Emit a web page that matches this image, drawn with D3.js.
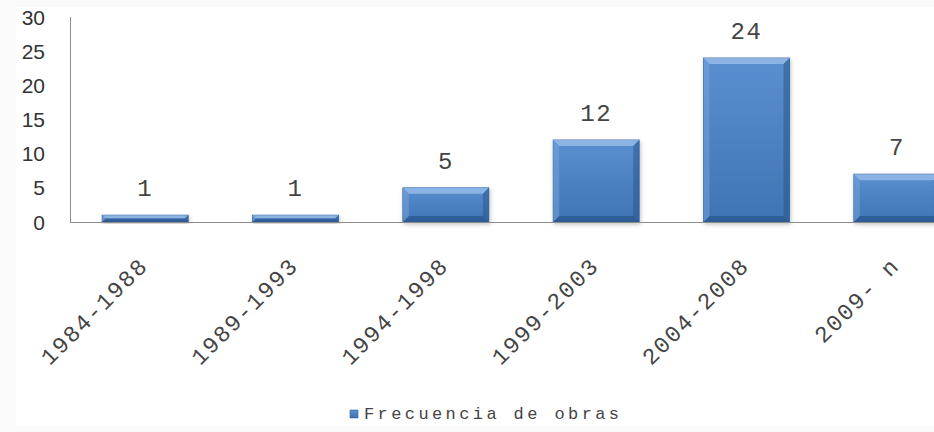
<!DOCTYPE html>
<html lang="es">
<head>
<meta charset="UTF-8">
<title>Frecuencia de obras</title>
<script src="https://d3js.org/d3.v7.min.js"></script>
<style>
    body { margin: 0; background: #fafafa; }
    svg { display: block; }
    .ytick { font-family: 'Liberation Sans', Arial, sans-serif; font-size: 21px; fill: #333; }
    .mono { font-family: 'Liberation Mono', 'Courier New', monospace; fill: #444; }
</style>
</head>
<body>
<svg id="chart" width="934" height="432"></svg>
<script>
    var categories = ["1984-1988", "1989-1993", "1994-1998", "1999-2003", "2004-2008", "2009- n"];
    var values = [1, 1, 5, 12, 24, 7];
    var yTicks = [0, 5, 10, 15, 20, 25, 30];
    var seriesName = "Frecuencia de obras";

    var data = categories.map(function(c, i) { return {cat: c, val: values[i]}; });

    var svg = d3.select("#chart");
    // white plot area inside the light frame
    svg.append("rect").attr("x", 16).attr("y", 7).attr("width", 918).attr("height", 419).attr("fill", "#fff");

    var defs = svg.append("defs");
    var grad = defs.append("linearGradient").attr("id", "barGrad").attr("x1", 0).attr("y1", 0).attr("x2", 0).attr("y2", 1);
    grad.append("stop").attr("offset", "0%").attr("stop-color", "#5a8fd0");
    grad.append("stop").attr("offset", "100%").attr("stop-color", "#3f74b4");
    var shadow = defs.append("filter").attr("id", "shadow").attr("x", "-10%").attr("y", "-10%").attr("width", "120%").attr("height", "130%");
    shadow.append("feDropShadow").attr("dx", 1).attr("dy", 2).attr("stdDeviation", 2).attr("flood-color", "#000").attr("flood-opacity", 0.25);

    var x = d3.scaleBand().domain(categories).range([70, 972]).paddingInner(0.428).paddingOuter(0.214);
    var y = d3.scaleLinear().domain([0, 30]).range([222, 17]);

    // y axis labels
    svg.selectAll(".ytick").data(yTicks).enter().append("text")
        .attr("class", "ytick")
        .attr("x", 45).attr("y", function(d) { return y(d); })
        .attr("dy", "0.36em").attr("text-anchor", "end")
        .text(function(d) { return d; });

    // bars
    var bars = svg.selectAll(".bar").data(data).enter().append("g").attr("class", "bar");
    bars.append("rect")
        .attr("x", function(d) { return x(d.cat); })
        .attr("y", function(d) { return y(d.val); })
        .attr("width", x.bandwidth())
        .attr("height", function(d) { return y(0) - y(d.val); })
        .attr("fill", "url(#barGrad)")
        .attr("stroke", "#35649c").attr("stroke-width", 0.8)
        .attr("filter", "url(#shadow)");

    // bevel edges
    bars.each(function(d) {
        var g = d3.select(this);
        var x0 = x(d.cat), x1 = x0 + x.bandwidth(), y0 = y(d.val), y1 = y(0);
        var b = Math.min(6, (y1 - y0) / 2);
        var faces = [
            {pts: [[x0, y0], [x1, y0], [x1 - b, y0 + b], [x0 + b, y0 + b]], fill: "#9cc0ec", op: 0.75},
            {pts: [[x0, y1], [x1, y1], [x1 - b, y1 - b], [x0 + b, y1 - b]], fill: "#1f4a80", op: 0.55},
            {pts: [[x0, y0], [x0 + b, y0 + b], [x0 + b, y1 - b], [x0, y1]], fill: "#7aa6de", op: 0.5},
            {pts: [[x1, y0], [x1 - b, y0 + b], [x1 - b, y1 - b], [x1, y1]], fill: "#26538c", op: 0.5}
        ];
        faces.forEach(function(f) {
            g.append("polygon").attr("points", f.pts.map(function(p) { return p.join(","); }).join(" "))
                .attr("fill", f.fill).attr("opacity", f.op);
        });
    });

    // value labels
    svg.selectAll(".val").data(data).enter().append("text")
        .attr("class", "mono val")
        .attr("x", function(d) { return x(d.cat) + x.bandwidth() / 2; })
        .attr("y", function(d) { return y(d.val) - 19; })
        .attr("text-anchor", "middle")
        .style("font-size", "24px")
        .style("letter-spacing", "1.5px")
        .text(function(d) { return d.val; });

    // axes lines
    svg.append("line").attr("x1", 70.5).attr("x2", 70.5).attr("y1", y(30)).attr("y2", y(0)).attr("stroke", "#8c8c8c");
    svg.append("line").attr("x1", 70).attr("x2", 934).attr("y1", y(0) + 0.5).attr("y2", y(0) + 0.5).attr("stroke", "#8c8c8c");

    // rotated category labels
    svg.selectAll(".xlab").data(categories).enter().append("text")
        .attr("class", "mono xlab")
        .attr("text-anchor", "end")
        .style("font-size", "23px")
        .style("letter-spacing", "1.8px")
        .attr("transform", function(d) {
            return "translate(" + (x(d) + x.bandwidth() / 2 + 4) + "," + 267 + ") rotate(-45)";
        })
        .text(function(d) { return d; });

    // legend
    var legend = svg.append("g").attr("transform", "translate(350,410)");
    legend.append("rect").attr("width", 8).attr("height", 8).attr("fill", "url(#barGrad)").attr("stroke", "#35649c").attr("stroke-width", 0.6);
    legend.append("text").attr("class", "mono").attr("x", 14).attr("y", 9).style("font-size", "17px").style("letter-spacing", "3.4px").text(seriesName);
</script>
</body>
</html>
